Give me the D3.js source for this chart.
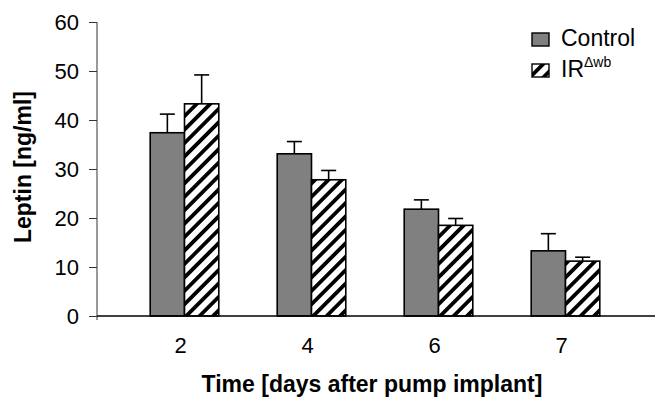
<!DOCTYPE html>
<html>
<head>
<meta charset="utf-8">
<script src="https://cdn.jsdelivr.net/npm/d3@7"></script>
<style>
  body { margin: 0; background: #fff; }
  svg { display: block; font-family: "Liberation Sans", Arial, sans-serif; }
</style>
</head>
<body>
<svg width="659" height="401"></svg>
<script>
const width = 659, height = 401;
const svg = d3.select("svg");

// Data
const days = ["2", "4", "6", "7"];
const groups = ["Control", "IR"];
const control = [37.4, 33.1, 21.8, 13.3];
const controlErr = [3.8, 2.5, 1.9, 3.5];
const ir = [43.3, 27.8, 18.5, 11.2];
const irErr = [5.9, 1.9, 1.4, 0.8];
const yTicks = [0, 10, 20, 30, 40, 50, 60];

const rows = days.map((d, i) => ({
  day: d,
  bars: [
    { key: "Control", value: control[i], err: controlErr[i] },
    { key: "IR", value: ir[i], err: irErr[i] }
  ]
}));

const x0 = 97, yBase = 316, yTop = 22;

const x = d3.scaleBand().domain(days).range([121, 629])
  .paddingInner(0.46).paddingOuter(0.23);
const xSub = d3.scaleBand().domain(groups).range([0, x.bandwidth()]);
const y = d3.scaleLinear().domain([0, 60]).range([yBase, yTop]);

// hatch pattern
const defs = svg.append("defs");
const pat = defs.append("pattern")
  .attr("id", "hatch")
  .attr("patternUnits", "userSpaceOnUse")
  .attr("width", 9.5).attr("height", 9.5)
  .attr("patternTransform", "rotate(45)");
pat.append("rect").attr("width", 9.5).attr("height", 9.5).attr("fill", "#fff");
pat.append("rect").attr("x", 0).attr("width", 3.8).attr("height", 9.5).attr("fill", "#000");

const fillFor = k => k === "Control" ? "#808080" : "url(#hatch)";

// bars
const g = svg.append("g");
const grp = g.selectAll("g.grp").data(rows).join("g")
  .attr("class", "grp")
  .attr("transform", d => `translate(${x(d.day)},0)`);

// error bars (upper only)
grp.selectAll("g.err").data(d => d.bars).join("g")
  .attr("class", "err")
  .each(function(d) {
    const cx = xSub(d.key) + xSub.bandwidth() / 2;
    const s = d3.select(this);
    s.append("line").attr("x1", cx).attr("x2", cx)
      .attr("y1", y(d.value)).attr("y2", y(d.value + d.err))
      .attr("stroke", "#000").attr("stroke-width", 1.6);
    s.append("line").attr("x1", cx - 7.5).attr("x2", cx + 7.5)
      .attr("y1", y(d.value + d.err)).attr("y2", y(d.value + d.err))
      .attr("stroke", "#000").attr("stroke-width", 1.6);
  });

grp.selectAll("rect").data(d => d.bars).join("rect")
  .attr("x", d => xSub(d.key))
  .attr("y", d => y(d.value))
  .attr("width", xSub.bandwidth())
  .attr("height", d => y(0) - y(d.value))
  .attr("fill", d => fillFor(d.key))
  .attr("stroke", "#000")
  .attr("stroke-width", 1.6);

// y axis
const yAxis = svg.append("g")
  .attr("transform", `translate(${x0},0)`)
  .call(d3.axisLeft(y).tickValues(yTicks).tickSize(8).tickPadding(10).tickSizeOuter(0));
yAxis.select(".domain").attr("stroke", "#333").attr("d", `M0,${yTop}V${yBase + 4}`);
yAxis.selectAll(".tick line").attr("stroke", "#333");
yAxis.selectAll("text").attr("font-size", 22).attr("fill", "#000")
  .attr("font-family", "Liberation Sans, Arial, sans-serif");

// x axis line
svg.append("line")
  .attr("x1", x0).attr("x2", 655)
  .attr("y1", yBase).attr("y2", yBase)
  .attr("stroke", "#000").attr("stroke-width", 1.6);

// x tick labels
svg.append("g").selectAll("text").data(days).join("text")
  .attr("x", d => x(d) + x.bandwidth() / 2 - 4)
  .attr("y", 353)
  .attr("text-anchor", "middle")
  .attr("font-size", 22)
  .text(d => d);

// axis titles
svg.append("text")
  .attr("x", 372).attr("y", 392)
  .attr("text-anchor", "middle")
  .attr("font-size", 23).attr("font-weight", "bold")
  .text("Time [days after pump implant]");

svg.append("text")
  .attr("transform", "translate(31,167) rotate(-90)")
  .attr("text-anchor", "middle")
  .attr("font-size", 23).attr("font-weight", "bold")
  .text("Leptin [ng/ml]");

// legend
const legend = svg.append("g");
const legendRows = [
  { key: "Control", label: "Control", y: 46 },
  { key: "IR", label: "IR", sup: "\u0394wb", y: 77 }
];
legendRows.forEach(r => {
  legend.append("rect")
    .attr("x", 532).attr("y", r.y - 13)
    .attr("width", 17).attr("height", 13)
    .attr("fill", fillFor(r.key))
    .attr("stroke", "#000").attr("stroke-width", 1.4);
  const t = legend.append("text")
    .attr("x", 561).attr("y", r.y)
    .attr("font-size", 23)
    .text(r.label);
  if (r.sup) {
    t.append("tspan").attr("dy", -10).attr("font-size", 14).text(r.sup);
  }
});
</script>
</body>
</html>
